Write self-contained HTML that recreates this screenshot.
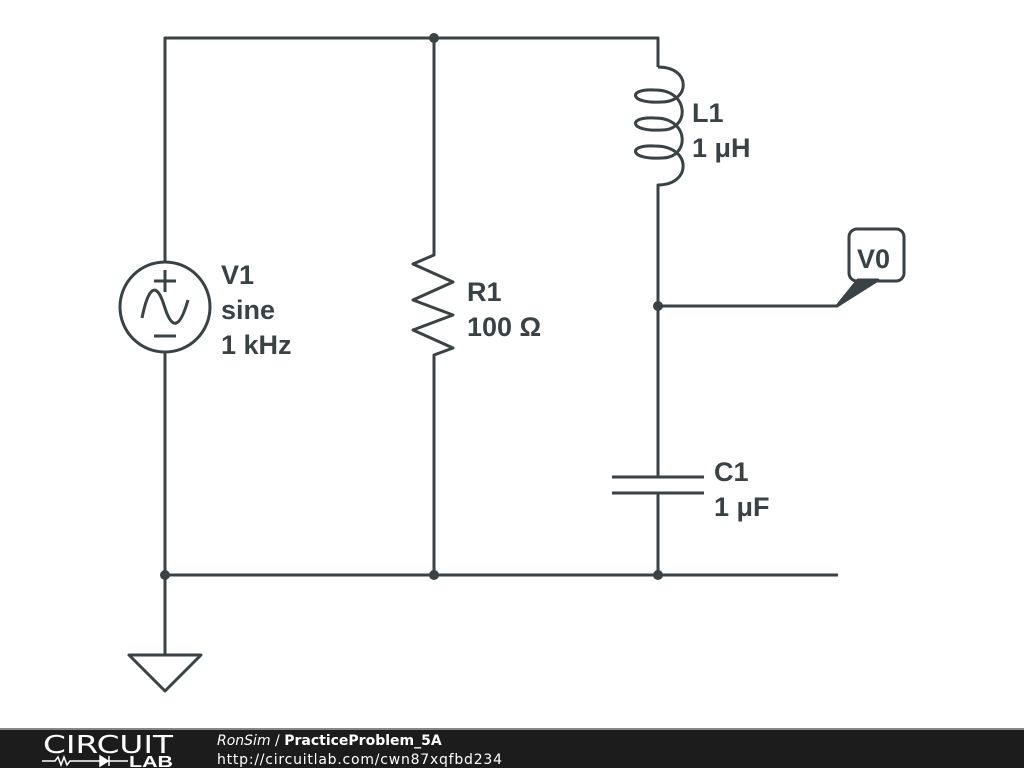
<!DOCTYPE html>
<html><head><style>
body{margin:0;background:#fff;width:1024px;height:768px;overflow:hidden;font-family:"Liberation Sans",sans-serif;}
</style></head><body>
<svg width="1024" height="768" viewBox="0 0 1024 768" xmlns="http://www.w3.org/2000/svg" style="position:absolute;left:0;top:0">
<g stroke="#3a4245" stroke-width="3" fill="none" stroke-linejoin="round">
<path d="M165 262 V38 H658 V67"/>
<path d="M165 352 V575 H838"/>
<path d="M165 575 V655"/>
<path d="M129 655 H201 L165 691 Z"/>
<path d="M434 38 V255 L413 264 L453 282 L413 300 L453 315 L413 330 L453 348 L434 355 V575"/>
<path d="M658 67 C692 67 690 102 662 102 C628 104 628 88 655 90 C690 90 690 130 662 130 C628 132 628 116 655 118 C690 118 690 158 662 158 C628 160 628 144 655 146 C692 146 692 185 658 185 V477"/>
<path d="M658 306 H837"/>
<path d="M612 477 H704 M612 493 H704"/>
<path d="M658 493 V575"/>
<circle cx="165" cy="307" r="45"/>
<path d="M165 270 V292 M154 281 H176 M154 336 H176"/>
<path d="M142 318 C148 288 156 280 164 305 C172 332 180 328 188 300"/>
<rect x="849" y="229" width="55" height="52" rx="8"/>
</g>
<path d="M837 306 L858 280 L878 280 Z" fill="#3a4245" stroke="#3a4245" stroke-width="3" stroke-linejoin="round"/>
<g fill="#3a4245">
<circle cx="434" cy="38" r="5"/><circle cx="165" cy="575" r="5"/><circle cx="434" cy="575" r="5"/><circle cx="658" cy="575" r="5"/><circle cx="658" cy="306" r="5"/>
</g>
<g fill="#3a4245" font-family="Liberation Sans, sans-serif" font-weight="bold" font-size="27">
<text x="221" y="284">V1</text><text x="221" y="319">sine</text><text x="221" y="354">1 kHz</text>
<text x="467" y="301">R1</text><text x="467" y="336">100 Ω</text>
<text x="692" y="122">L1</text><text x="692" y="157">1 μH</text>
<text x="714" y="481">C1</text><text x="714" y="516">1 μF</text>
<text x="857" y="268">V0</text>
</g>
<rect x="0" y="729" width="1024" height="39" fill="#1c1c1c"/>
<rect x="0" y="728" width="1024" height="2" fill="#888"/>
<text x="43" y="753" fill="#fff" font-size="25" font-family="DejaVu Sans, sans-serif" font-weight="normal" textLength="130" lengthAdjust="spacingAndGlyphs">CIRCUIT</text>
<path d="M42 761 H55 L58 757 L61 765 L64 757 L67 765 L70 761 H100" stroke="#fff" stroke-width="1.5" fill="none"/>
<path d="M100 756 V766 L108 761 Z M109 756 V766" fill="#fff" stroke="#fff" stroke-width="1.5"/>
<path d="M109 761 H128" stroke="#fff" stroke-width="1.5"/>
<text x="129" y="767" fill="#fff" font-size="16" font-weight="bold" font-family="Liberation Sans, sans-serif" textLength="44" lengthAdjust="spacingAndGlyphs">LAB</text>
<text x="217" y="745" fill="#fff" font-size="14" font-family="DejaVu Sans, sans-serif"><tspan font-style="italic">RonSim</tspan> / <tspan font-weight="bold">PracticeProblem_5A</tspan></text>
<text x="217" y="764" fill="#fff" font-size="14" font-family="DejaVu Sans, sans-serif" textLength="285">http://circuitlab.com/cwn87xqfbd234</text>
</svg>
</body></html>
